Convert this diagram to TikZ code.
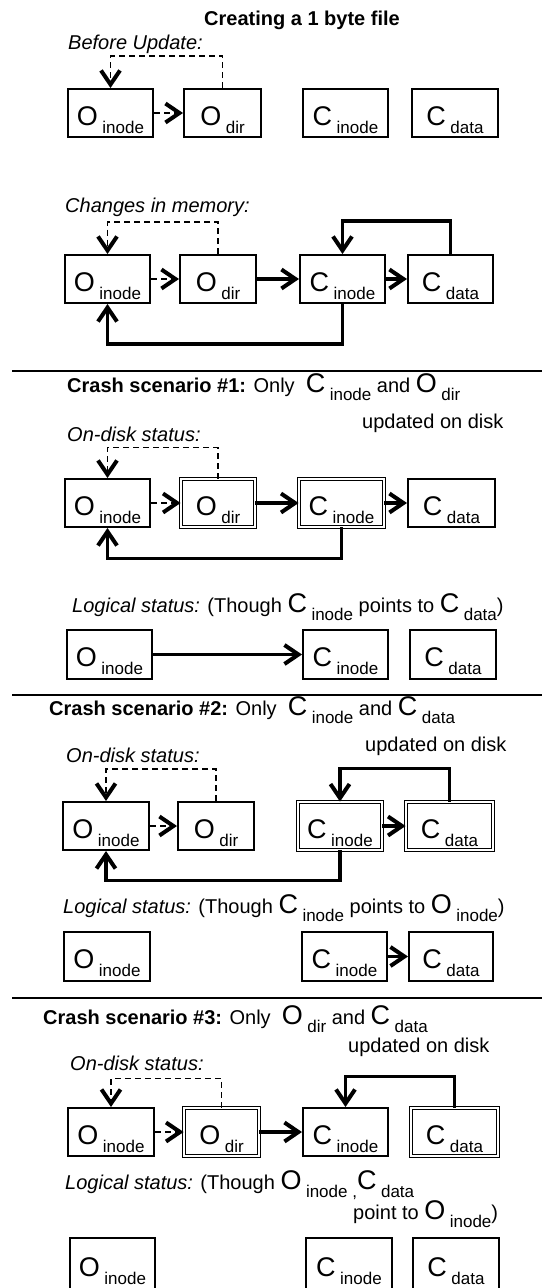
\documentclass[tikz,border=0pt]{standalone}
\usepackage{fontspec}
\setmainfont{Liberation Sans}
\usetikzlibrary{arrows.meta}
\newcommand{\bigsub}[2]{{\fontsize{27}{27}\selectfont #1}\hspace{4.5pt}\raisebox{-8pt}{\fontsize{17}{17}\selectfont #2}}
\begin{document}
\begin{tikzpicture}[x=1pt,y=-1pt,
  bx/.style={draw, line width=2pt, minimum height=48pt, inner sep=0pt, text height=24pt, text depth=0pt},
  dbx/.style={bx, double, line width=0.8pt, double distance=1.6pt},
  arr/.style={-{Straight Barb[length=14pt,width=19pt,line width=4pt]}},
  thk/.style={line width=3.5pt, arr},
  dsh/.style={line width=1.5pt, dash pattern=on 6pt off 4pt, arr},
  thn/.style={line width=2.2pt, arr},
  sep/.style={line width=1.5pt},
  txt/.style={inner sep=0pt, anchor=base west, font=\fontsize{20}{24}\selectfont},
  itx/.style={txt, font=\itshape\fontsize{20}{24}\selectfont},
  ttl/.style={inner sep=0pt, anchor=base, font=\bfseries\fontsize{20}{24}\selectfont}
]
\useasboundingbox (0,0) rectangle (542,1288);

% title
\node[ttl] (title) at (302,25) {Creating a 1 byte file};

% ---- section 1
\node[itx] (t1) at (68,49) {Before Update:};
\node[bx, minimum width=85pt] (i1) at (110.5,113) {\bigsub{O}{inode}};
\node[bx, minimum width=77pt] (d1) at (222.5,113) {\bigsub{O}{dir}};
\node[bx, minimum width=85pt] (c1) at (345.5,113) {\bigsub{C}{inode}};
\node[bx, minimum width=86pt] (a1) at (455,113) {\bigsub{C}{data}};
\draw[dsh] (d1.north) -- ++(0,-32) -| (i1.north);
\draw[dsh] (i1.east) -- (d1.west);

% ---- section 2
\node[itx] (t2) at (65,212) {Changes in memory:};
\node[bx, minimum width=85pt] (i2) at (107.5,279) {\bigsub{O}{inode}};
\node[bx, minimum width=76pt] (d2) at (218,279) {\bigsub{O}{dir}};
\node[bx, minimum width=85pt] (c2) at (342.5,279) {\bigsub{C}{inode}};
\node[bx, minimum width=85pt] (a2) at (450.5,279) {\bigsub{C}{data}};
\draw[dsh] (d2.north) -- ++(0,-32) -| (i2.north);
\draw[dsh] (i2.east) -- (d2.west);
\draw[thk] (d2.east) -- (c2.west);
\draw[thk] (c2.east) -- (a2.west);
\draw[thk] (a2.north) -- ++(0,-33) -| (c2.north);
\draw[thk] (c2.south) -- ++(0,40) -| (i2.south);

% ---- section 3
\draw[sep] (12,371) coordinate (s3l) -- (542,371) coordinate (s3r);
\node[txt] (h3a) at (67,392) {\textbf{Crash scenario \#1:} Only\ \ \bigsub{C}{inode} and \bigsub{O}{dir}};
\node[txt] (h3b) at (362,428) {updated on disk};
\node[itx] (o3) at (67,441) {On-disk status:};
\node[bx, minimum width=85pt] (i3) at (107.5,503) {\bigsub{O}{inode}};
\node[dbx, minimum width=74pt] (d3) at (218,503) {\bigsub{O}{dir}};
\node[dbx, minimum width=85pt] (c3) at (341.5,503) {\bigsub{C}{inode}};
\node[bx, minimum width=87pt] (a3) at (451.5,503) {\bigsub{C}{data}};
\draw[dsh] (d3.north) -- ++(0,-31) -| (i3.north);
\draw[dsh] (i3.east) -- (d3.west);
\draw[thk] (d3.east) -- (c3.west);
\draw[thk] (c3.east) -- (a3.west);
\draw[thk] (c3.south) -- ++(0,31) -| (i3.south);

\node[txt] (g3) at (72,612) {\textit{Logical status:} (Though \bigsub{C}{inode} points to \bigsub{C}{data})};
\node[bx, minimum width=85pt, minimum height=49pt] (li3) at (109.5,654.5) {\bigsub{O}{inode}};
\node[bx, minimum width=85pt, minimum height=49pt] (lc3) at (345.5,654.5) {\bigsub{C}{inode}};
\node[bx, minimum width=86pt, minimum height=49pt] (la3) at (453,654.5) {\bigsub{C}{data}};
\draw[thn] (li3.east) -- (lc3.west);

% ---- section 4
\draw[sep] (12,695) coordinate (s4l) -- (542,695) coordinate (s4r);
\node[txt] (h4a) at (49,715) {\textbf{Crash scenario \#2:} Only\ \ \bigsub{C}{inode} and \bigsub{C}{data}};
\node[txt] (h4b) at (365,751) {updated on disk};
\node[itx] (o4) at (66,762) {On-disk status:};
\node[bx, minimum width=86pt] (i4) at (106,826) {\bigsub{O}{inode}};
\node[bx, minimum width=76pt] (d4) at (216,826) {\bigsub{O}{dir}};
\node[dbx, minimum width=84pt] (c4) at (340,826) {\bigsub{C}{inode}};
\node[dbx, minimum width=87pt] (a4) at (449.5,826) {\bigsub{C}{data}};
\draw[dsh] (d4.north) -- ++(0,-32) -| (i4.north);
\draw[dsh] (i4.east) -- (d4.west);
\draw[thk] (c4.east) -- (a4.west);
\draw[thk] (a4.north) -- ++(0,-33) -| (c4.north);
\draw[thk] (c4.south) -- ++(0,30) -| (i4.south);

\node[txt] (g4) at (63,913) {\textit{Logical status:} (Though \bigsub{C}{inode} points to \bigsub{O}{inode})};
\node[bx, minimum width=86pt, minimum height=49pt] (li4) at (107,956.5) {\bigsub{O}{inode}};
\node[bx, minimum width=85pt, minimum height=49pt] (lc4) at (344.5,956.5) {\bigsub{C}{inode}};
\node[bx, minimum width=84pt, minimum height=49pt] (la4) at (451,956.5) {\bigsub{C}{data}};
\draw[thk] (lc4.east) -- (la4.west);

% ---- section 5
\draw[sep] (12,998) coordinate (s5l) -- (542,998) coordinate (s5r);
\node[txt] (h5a) at (43,1024) {\textbf{Crash scenario \#3:} Only\ \ \bigsub{O}{dir} and \bigsub{C}{data}};
\node[txt] (h5b) at (348,1052) {updated on disk};
\node[itx] (o5) at (70,1070) {On-disk status:};
\node[bx, minimum width=86pt] (i5) at (111,1132) {\bigsub{O}{inode}};
\node[dbx, minimum width=75pt] (d5) at (221.5,1132) {\bigsub{O}{dir}};
\node[bx, minimum width=85pt] (c5) at (345.5,1132) {\bigsub{C}{inode}};
\node[dbx, minimum width=87pt] (a5) at (454.5,1132) {\bigsub{C}{data}};
\draw[dsh] (d5.north) -- ++(0,-29) -| (i5.north);
\draw[dsh] (i5.east) -- (d5.west);
\draw[thk] (d5.east) -- (c5.west);
\draw[thk] (a5.north) -- ++(0,-31) -| (c5.north);

\node[txt] (g5a) at (65,1189) {\textit{Logical status:} (Though \bigsub{O}{inode ,}\bigsub{C}{data}};
\node[txt] (g5b) at (353,1219) {point to \bigsub{O}{inode})};
\node[bx, minimum width=85pt, minimum height=56pt, text height=21pt] (li5) at (112.5,1266) {\bigsub{O}{inode}};
\node[bx, minimum width=86pt, minimum height=56pt, text height=21pt] (lc5) at (349,1266) {\bigsub{C}{inode}};
\node[bx, minimum width=86pt, minimum height=56pt, text height=21pt] (la5) at (456,1266) {\bigsub{C}{data}};
\end{tikzpicture}
\end{document}
